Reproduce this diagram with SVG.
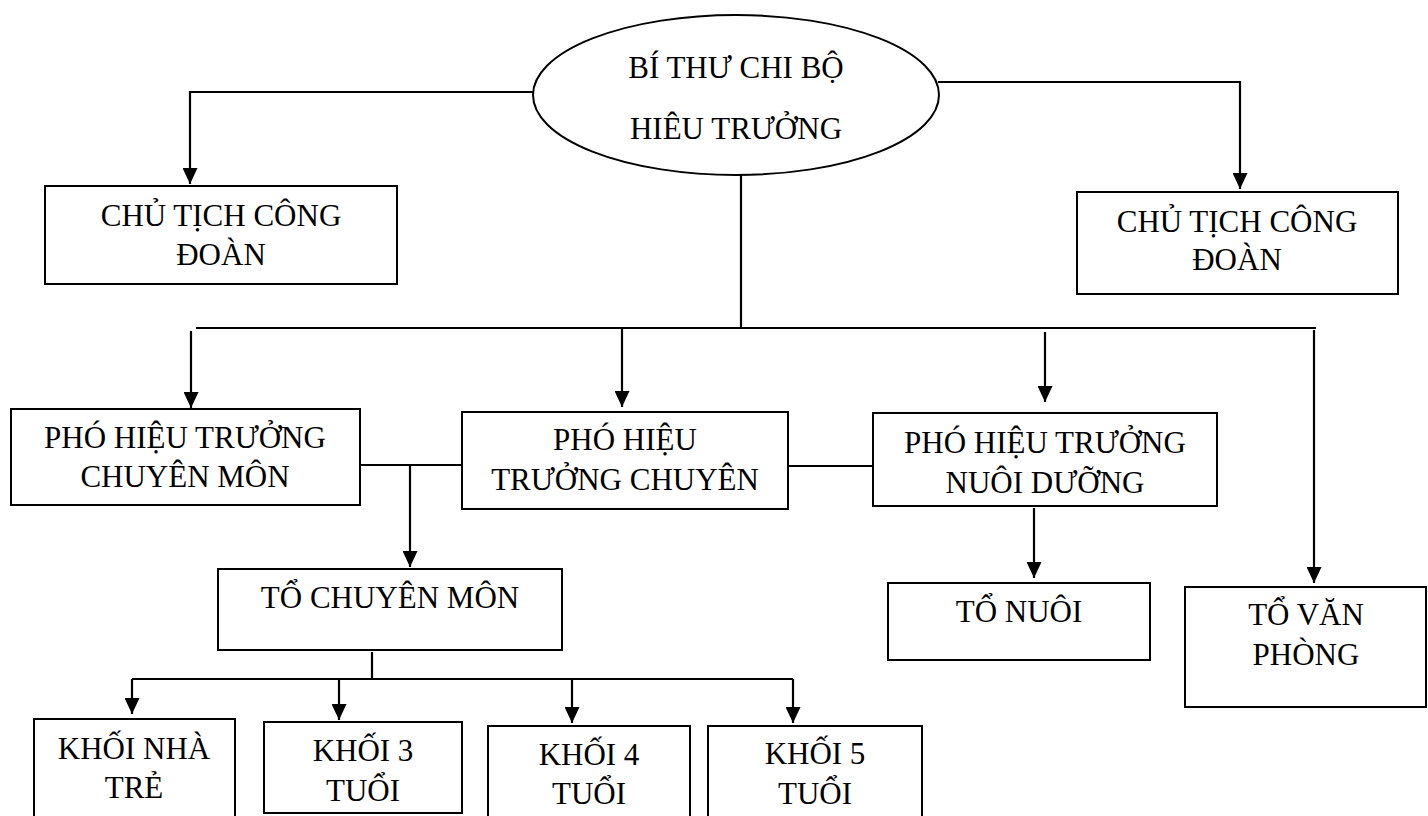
<svg xmlns="http://www.w3.org/2000/svg" width="1428" height="816" viewBox="0 0 1428 816">
<style>
.box{fill:#fff;stroke:#000;stroke-width:2}
.t{font-family:"Liberation Serif","Times New Roman",serif;font-size:31px;text-anchor:middle;fill:#000}
.c{fill:none;stroke:#000;stroke-width:2.2}
</style>
<defs>
<marker id="ah" viewBox="0 0 16 15" refX="16" refY="7.5" markerWidth="16" markerHeight="15" markerUnits="userSpaceOnUse" orient="auto">
<path d="M0,0 L16,7.5 L0,15 z" fill="#000"/>
</marker>
</defs>
<rect width="1428" height="816" fill="#fff"/>
<g id="connectors">
<path class="c" d="M535,92 H190 V184" marker-end="url(#ah)"/>
<path class="c" d="M938,82 H1240 V189" marker-end="url(#ah)"/>
<path class="c" d="M741,175 V328"/>
<path class="c" d="M196,328 H1316"/>
<path class="c" d="M191,331 V408" marker-end="url(#ah)"/>
<path class="c" d="M622,328 V407" marker-end="url(#ah)"/>
<path class="c" d="M1045,332 V402" marker-end="url(#ah)"/>
<path class="c" d="M1314,330 V583" marker-end="url(#ah)"/>
<path class="c" d="M361,465 H462"/>
<path class="c" d="M410,464 V567" marker-end="url(#ah)"/>
<path class="c" d="M788,466 H873"/>
<path class="c" d="M1034,508 V578" marker-end="url(#ah)"/>
<path class="c" d="M372,652 V679"/>
<path class="c" d="M132,679 H793"/>
<path class="c" d="M132,679 V714" marker-end="url(#ah)"/>
<path class="c" d="M339,679 V720" marker-end="url(#ah)"/>
<path class="c" d="M572,679 V723" marker-end="url(#ah)"/>
<path class="c" d="M793,679 V723" marker-end="url(#ah)"/>
</g>
<g id="bithu">
<ellipse class="box" cx="736" cy="95" rx="203" ry="80"/>
<text class="t" x="736" y="78">BÍ THƯ CHI BỘ</text>
<text class="t" x="736" y="139">HIÊU TRƯỞNG</text>
</g>
<g id="chutich-left">
<rect class="box" x="45" y="186" width="352" height="98"/>
<text class="t" x="221" y="226">CHỦ TỊCH CÔNG</text>
<text class="t" x="221" y="265">ĐOÀN</text>
</g>
<g id="chutich-right">
<rect class="box" x="1077" y="192" width="321" height="102"/>
<text class="t" x="1237" y="232">CHỦ TỊCH CÔNG</text>
<text class="t" x="1237" y="270">ĐOÀN</text>
</g>
<g id="pht-chuyenmon">
<rect class="box" x="11" y="409" width="349" height="96"/>
<text class="t" x="185" y="448">PHÓ HIỆU TRƯỞNG</text>
<text class="t" x="185" y="487">CHUYÊN MÔN</text>
</g>
<g id="pht-chuyen">
<rect class="box" x="462" y="412" width="326" height="97"/>
<text class="t" x="625" y="450">PHÓ HIỆU</text>
<text class="t" x="625" y="490">TRƯỞNG CHUYÊN</text>
</g>
<g id="pht-nuoiduong">
<rect class="box" x="873" y="413" width="344" height="93"/>
<text class="t" x="1045" y="453">PHÓ HIỆU TRƯỞNG</text>
<text class="t" x="1045" y="493">NUÔI DƯỠNG</text>
</g>
<g id="to-chuyenmon">
<rect class="box" x="218" y="569" width="344" height="81"/>
<text class="t" x="390" y="608">TỔ CHUYÊN MÔN</text>
</g>
<g id="to-nuoi">
<rect class="box" x="888" y="583" width="262" height="77"/>
<text class="t" x="1019" y="622">TỔ NUÔI</text>
</g>
<g id="to-vanphong">
<rect class="box" x="1185" y="587" width="241" height="120"/>
<text class="t" x="1306" y="625">TỔ VĂN</text>
<text class="t" x="1306" y="665">PHÒNG</text>
</g>
<g id="khoi-nhatre">
<rect class="box" x="34" y="719" width="201" height="110"/>
<text class="t" x="134" y="759">KHỐI NHÀ</text>
<text class="t" x="134" y="798">TRẺ</text>
</g>
<g id="khoi-3">
<rect class="box" x="264" y="722" width="198" height="91"/>
<text class="t" x="363" y="761">KHỐI 3</text>
<text class="t" x="363" y="801">TUỔI</text>
</g>
<g id="khoi-4">
<rect class="box" x="488" y="726" width="202" height="110"/>
<text class="t" x="589" y="765">KHỐI 4</text>
<text class="t" x="589" y="804">TUỔI</text>
</g>
<g id="khoi-5">
<rect class="box" x="708" y="726" width="214" height="110"/>
<text class="t" x="815" y="764">KHỐI 5</text>
<text class="t" x="815" y="804">TUỔI</text>
</g>
</svg>
